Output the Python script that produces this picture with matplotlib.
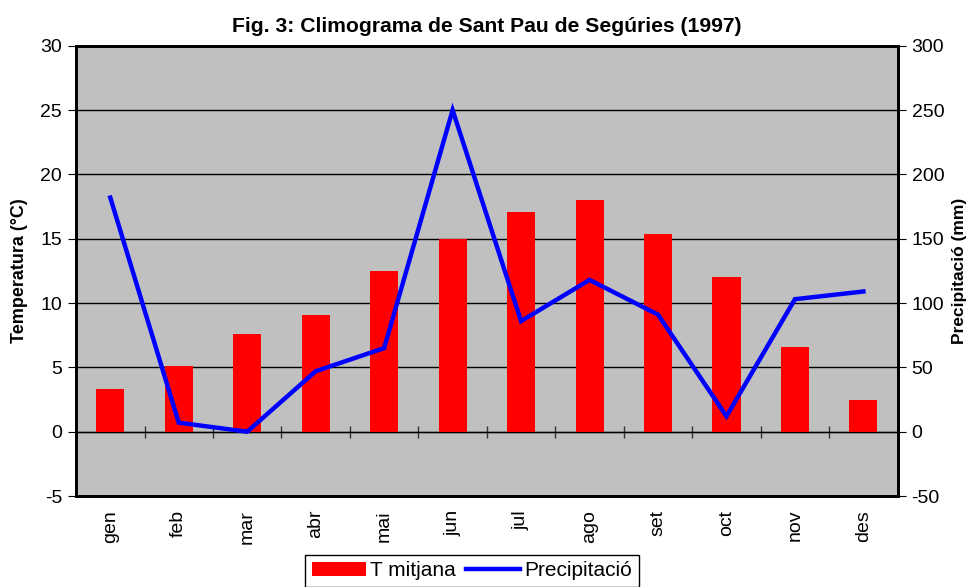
import numpy as np
import matplotlib
matplotlib.use('Agg')
import matplotlib.pyplot as plt

mesos = ['gen', 'feb', 'mar', 'abr', 'mai', 'jun', 'jul', 'ago', 'set', 'oct', 'nov', 'des']
temperatura = [3.3, 5.1, 7.6, 9.1, 12.5, 15.0, 17.1, 18.0, 15.4, 12.0, 6.6, 2.5]  # °C
precipitacio = [182, 7, 0, 47, 65, 250, 86, 118, 91, 12, 103, 109]  # mm

plt.rcParams['font.family'] = ['Liberation Sans', 'DejaVu Sans']
plt.rcParams['axes.unicode_minus'] = False

fig = plt.figure(figsize=(9.7, 5.87), dpi=100)
ax = fig.add_axes([0.0784, 0.155, 0.847, 0.767])
ax.set_facecolor('#C0C0C0')

x = np.arange(len(mesos))
barres = ax.bar(x, temperatura, width=0.41, color='#FF0000', zorder=2, label='T mitjana')

tmin, tmax = -5, 30
ax.set_xlim(-0.5, len(mesos) - 0.5)
ax.set_ylim(tmin, tmax)
ax.set_yticks(np.arange(tmin, tmax + 1, 5))
ax.grid(axis='y', color='black', lw=1)
ax.set_axisbelow(True)
ax.set_xticks(x)
ax.set_xticklabels(mesos, rotation=90, fontsize=14)
ax.tick_params(axis='x', length=0, pad=10)
ax.tick_params(axis='y', labelsize=14, length=6, direction='out', pad=4)
ax.set_ylabel('Temperatura (°C)', fontsize=13, fontweight='bold', labelpad=9)
for s in ax.spines.values():
    s.set_linewidth(2)

# eix de categories sobre el zero
sec = ax.secondary_xaxis((0 - tmin) / (tmax - tmin))
sec.set_xticks(np.arange(0.5, len(mesos) - 1, 1))
sec.set_xticklabels([])
sec.tick_params(direction='inout', length=9, width=1, color='#333333')
sec.spines['bottom'].set_linewidth(1)
sec.spines['bottom'].set_color('#333333')

ax2 = ax.twinx()
linia, = ax2.plot(x, precipitacio, color='#0000FF', lw=3.2, label='Precipitació',
                  solid_joinstyle='miter', zorder=3)
ax2.set_ylim(-50, 300)
ax2.set_yticks(np.arange(-50, 301, 50))
ax2.tick_params(axis='y', labelsize=14, length=6, direction='out', pad=4)
ax2.set_ylabel('Precipitació (mm)', fontsize=12.5, fontweight='bold', rotation=90, labelpad=6)
for s in ax2.spines.values():
    s.set_linewidth(2)

ax.set_title('Fig. 3: Climograma de Sant Pau de Segúries (1997)', fontsize=15.2,
             fontweight='bold', pad=10)

fig.legend([barres, linia], ['T mitjana', 'Precipitació'], loc='upper center',
           bbox_to_anchor=(472 / 970, 1 - 555 / 587), ncol=2, fontsize=15,
           frameon=True, fancybox=False, edgecolor='black', framealpha=1,
           handlelength=2.6, handletextpad=0.2, columnspacing=0.5, borderaxespad=0,
           borderpad=0.3)

fig.savefig('out.png', dpi=100)
